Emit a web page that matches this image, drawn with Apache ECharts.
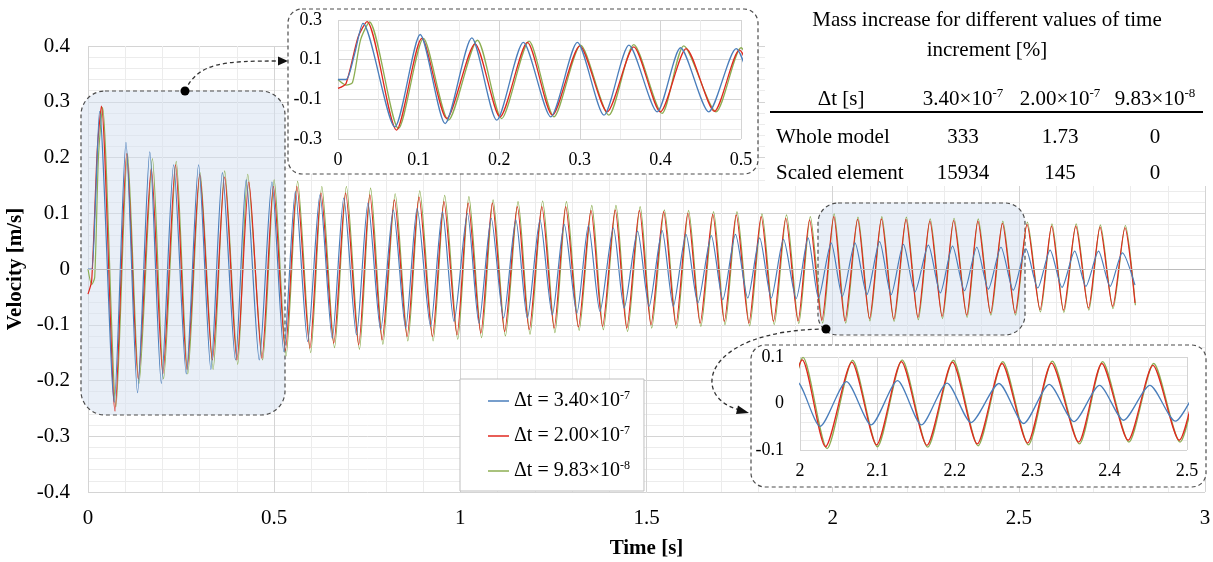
<!DOCTYPE html>
<html>
<head>
<meta charset="utf-8">
<script src="https://cdn.jsdelivr.net/npm/echarts@6/dist/echarts.min.js"></script>
<style>html,body{margin:0;padding:0;background:#fff}#c{width:1213px;height:562px}</style>
</head>
<body>
<div id="c"></div>
<script>
// ---- data (times of extrema in s, velocity in m/s) ----
const seriesNames = ['Δt = 3.40×10-7', 'Δt = 2.00×10-7', 'Δt = 9.83×10-8'];
const xTicksMain = [0, 0.5, 1, 1.5, 2, 2.5, 3];

const blueT = [0,0.010,0.020,0.031,0.0705,0.102,0.133,0.166,0.197,0.230,0.264,0.297,0.330,0.361,0.396,0.425,0.460,0.494,0.526,0.557,0.590,0.623,0.656,0.687,0.721,0.752,0.786,0.820,0.853,0.884,0.920,0.952,0.983,1.019,1.050,1.083,1.116,1.149,1.180,1.214,1.247,1.279,1.313,1.344,1.375,1.411,1.440,1.476,1.507,1.542,1.572,1.606,1.638,1.674,1.705,1.739,1.772,1.804,1.835,1.868,1.902,1.934,1.962,1.996,2.026,2.060,2.092,2.126,2.157,2.190,2.221,2.257,2.289,2.322,2.354,2.387,2.418,2.452,2.485,2.519,2.551,2.584,2.616,2.650,2.680,2.714,2.745,2.778,2.812];
const blueV = [0,0,0.12,0.283,-0.239,0.227,-0.222,0.210,-0.205,0.187,-0.188,0.187,-0.180,0.173,-0.163,0.160,-0.163,0.156,-0.148,0.139,-0.130,0.133,-0.124,0.127,-0.118,0.118,-0.109,0.106,-0.106,0.109,-0.103,0.103,-0.094,0.100,-0.097,0.091,-0.088,0.088,-0.088,0.088,-0.082,0.080,-0.079,0.078,-0.076,0.074,-0.070,0.068,-0.067,0.069,-0.067,0.062,-0.061,0.060,-0.055,0.062,-0.052,0.056,-0.052,0.053,-0.053,0.056,-0.052,0.047,-0.049,0.047,-0.046,0.049,-0.046,0.044,-0.041,0.043,-0.043,0.041,-0.039,0.039,-0.036,0.039,-0.038,0.036,-0.034,0.034,-0.033,0.032,-0.031,0.032,-0.031,0.029,-0.029];

const redT = [0,0.010,0.025,0.036,0.0726,0.104,0.135,0.170,0.201,0.235,0.266,0.300,0.334,0.367,0.400,0.432,0.467,0.498,0.530,0.561,0.596,0.626,0.660,0.692,0.727,0.757,0.790,0.823,0.857,0.889,0.925,0.956,0.991,1.021,1.055,1.086,1.119,1.153,1.185,1.219,1.252,1.283,1.317,1.351,1.382,1.416,1.447,1.481,1.512,1.546,1.579,1.611,1.644,1.678,1.709,1.741,1.775,1.808,1.841,1.874,1.907,1.938,1.971,2.003,2.033,2.067,2.099,2.131,2.164,2.197,2.229,2.261,2.294,2.325,2.360,2.390,2.424,2.456,2.490,2.522,2.557,2.588,2.620,2.653,2.687,2.718,2.752,2.785,2.812];
const redV = [-0.045,-0.02,0.215,0.292,-0.255,0.207,-0.197,0.180,-0.188,0.187,-0.180,0.170,-0.163,0.165,-0.163,0.156,-0.160,0.148,-0.146,0.148,-0.142,0.136,-0.133,0.136,-0.136,0.133,-0.127,0.124,-0.121,0.129,-0.121,0.121,-0.118,0.118,-0.115,0.118,-0.112,0.112,-0.109,0.112,-0.106,0.112,-0.104,0.105,-0.103,0.106,-0.106,0.105,-0.100,0.103,-0.100,0.100,-0.097,0.098,-0.094,0.097,-0.097,0.094,-0.094,0.091,-0.093,0.088,-0.092,0.094,-0.093,0.089,-0.089,0.090,-0.090,0.089,-0.087,0.086,-0.085,0.087,-0.083,0.086,-0.079,0.082,-0.079,0.080,-0.073,0.077,-0.074,0.077,-0.070,0.075,-0.067,0.074,-0.061];

const greenT = [0,0.010,0.018,0.028,0.039,0.075,0.106,0.137,0.173,0.203,0.237,0.268,0.301,0.336,0.367,0.402,0.429,0.469,0.500,0.532,0.563,0.598,0.628,0.662,0.694,0.729,0.759,0.792,0.825,0.859,0.891,0.927,0.958,0.993,1.023,1.057,1.088,1.121,1.155,1.187,1.221,1.254,1.285,1.319,1.353,1.384,1.418,1.449,1.483,1.514,1.548,1.581,1.613,1.646,1.680,1.711,1.743,1.777,1.810,1.843,1.876,1.909,1.940,1.973,2.004,2.035,2.068,2.100,2.132,2.165,2.198,2.230,2.262,2.295,2.326,2.361,2.391,2.425,2.457,2.491,2.523,2.558,2.589,2.621,2.654,2.688,2.719,2.753,2.786,2.813];
const greenV = [0,-0.028,-0.015,0.20,0.290,-0.247,0.207,-0.205,0.198,-0.197,0.193,-0.188,0.173,-0.180,0.176,-0.171,0.170,-0.163,0.160,-0.156,0.157,-0.150,0.148,-0.141,0.148,-0.144,0.145,-0.135,0.135,-0.129,0.140,-0.129,0.132,-0.126,0.130,-0.123,0.124,-0.120,0.121,-0.117,0.122,-0.114,0.121,-0.110,0.114,-0.109,0.114,-0.112,0.112,-0.106,0.106,-0.106,0.105,-0.103,0.103,-0.100,0.103,-0.102,0.099,-0.100,0.097,-0.098,0.094,-0.097,0.099,-0.097,0.093,-0.093,0.094,-0.094,0.093,-0.091,0.090,-0.089,0.091,-0.087,0.090,-0.083,0.086,-0.083,0.084,-0.077,0.081,-0.078,0.081,-0.074,0.079,-0.071,0.078,-0.065];

// table content
const tableTitle = ['Mass increase for different values of time', 'increment [%]'];
const tableHeads = [['3.40×10', '-7'], ['2.00×10', '-7'], ['9.83×10', '-8']];
const tableRows = [['Whole model', '333', '1.73', '0'], ['Scaled element', '15934', '145', '0']];

// ---- chart ----
const FONT = 'Liberation Serif';
const colors = ['#4a7ebb', '#e0281f', '#8cae52'];
const pairs = (T, V) => T.map((t, i) => [t, V[i]]);
const dataSets = [pairs(blueT, blueV), pairs(redT, redV), pairs(greenT, greenV)];

const chart = echarts.init(document.getElementById('c'), null, { renderer: 'canvas' });

function mkX(idx, min, max, interval, minorSplit, fontSize, margin, extra) {
  return Object.assign({
    type: 'value', gridIndex: idx, min: min, max: max, interval: interval,
    axisLine: { show: false }, axisTick: { show: false },
    axisLabel: { fontFamily: FONT, fontSize: fontSize, color: '#000', margin: margin },
    splitLine: { show: true, lineStyle: { color: '#d4d4d4', width: 1 } },
    minorTick: { show: false, splitNumber: minorSplit },
    minorSplitLine: { show: true, lineStyle: { color: '#ececec', width: 1 } },
    z: idx === 0 ? 0 : 6
  }, extra || {});
}

const xAxes = [
  mkX(0, 0, 3, 0.5, 5, 21, 16, { name: 'Time [s]', nameLocation: 'middle', nameGap: 46,
    nameTextStyle: { fontFamily: FONT, fontSize: 21, fontWeight: 'bold', color: '#000' } }),
  mkX(1, 0, 0.5, 0.1, 2, 18, 12),
  mkX(2, 2, 2.5, 0.1, 2, 18, 12)
];
const yAxes = [
  mkX(0, -0.4, 0.4, 0.1, 5, 21, 18, { name: 'Velocity [m/s]', nameLocation: 'middle', nameGap: 56, nameRotate: 90,
    nameTextStyle: { fontFamily: FONT, fontSize: 21, fontWeight: 'bold', color: '#000' } }),
  mkX(1, -0.3, 0.3, 0.2, 4, 18, 16),
  mkX(2, -0.1, 0.1, 0.1, 5, 18, 16)
];

const order = [2, 1, 0]; // draw green, red, blue
const series = [];
[0, 1, 2].forEach(g => {
  order.forEach((k, j) => {
    const s = {
      name: seriesNames[k], type: 'line', xAxisIndex: g, yAxisIndex: g,
      data: dataSets[k], symbol: 'none', smooth: 0.25, clip: true,
      lineStyle: { color: colors[k], width: g === 0 ? 1.2 : 1.3 },
      itemStyle: { color: colors[k] },
      z: g === 0 ? 2 : 7, silent: true, animation: false
    };
    if (j === 0) {
      s.markLine = { silent: true, symbol: 'none', label: { show: false }, animation: false,
        lineStyle: { color: '#bdbdbd', width: 1, type: 'solid' }, data: [{ yAxis: 0 }] };
    }
    series.push(s);
  });
});

// rich text helpers
const richSup = {
  a: { fontFamily: FONT, fontSize: 21, color: '#000' },
  s: { fontFamily: FONT, fontSize: 13, color: '#000', padding: [0, 0, 10, 0] }
};
const richLeg = {
  a: { fontFamily: FONT, fontSize: 20, color: '#000' },
  s: { fontFamily: FONT, fontSize: 12, color: '#000', padding: [0, 0, 10, 0] }
};
const el = [];
// shaded zoom regions
el.push({ type: 'rect', shape: { x: 81, y: 91, width: 204, height: 324, r: 24 }, z: 1,
  style: { fill: 'rgba(212,223,239,0.5)', stroke: '#4d4d4d', lineWidth: 1.2, lineDash: [4, 3] } });
el.push({ type: 'rect', shape: { x: 818, y: 203, width: 207, height: 132, r: 20 }, z: 1,
  style: { fill: 'rgba(212,223,239,0.5)', stroke: '#4d4d4d', lineWidth: 1.2, lineDash: [4, 3] } });
// inset boxes
el.push({ type: 'rect', shape: { x: 288, y: 9, width: 470, height: 165, r: 14 }, z: 5,
  style: { fill: '#fff', stroke: '#4d4d4d', lineWidth: 1.2, lineDash: [4, 3] } });
el.push({ type: 'rect', shape: { x: 751, y: 345, width: 455, height: 142, r: 14 }, z: 5,
  style: { fill: '#fff', stroke: '#4d4d4d', lineWidth: 1.2, lineDash: [4, 3] } });
// connectors
el.push({ type: 'bezierCurve', z: 8, shape: { x1: 185, y1: 91, cpx1: 198, cpy1: 62, cpx2: 225, cpy2: 61, x2: 279, y2: 61 },
  style: { fill: null, stroke: '#333', lineWidth: 1.3, lineDash: [4, 3] } });
el.push({ type: 'polygon', z: 8, shape: { points: [[278, 56.5], [288, 61], [278, 65.5]] }, style: { fill: '#111' } });
el.push({ type: 'circle', z: 8, shape: { cx: 185, cy: 91, r: 4.5 }, style: { fill: '#000' } });
el.push({ type: 'bezierCurve', z: 8, shape: { x1: 826, y1: 329, cpx1: 700, cpy1: 330, cpx2: 690, cpy2: 398, x2: 740, y2: 410 },
  style: { fill: null, stroke: '#333', lineWidth: 1.3, lineDash: [4, 3] } });
el.push({ type: 'polygon', z: 8, shape: { points: [[738, 405.5], [749, 413], [736, 414]] }, style: { fill: '#111' } });
el.push({ type: 'circle', z: 8, shape: { cx: 826, cy: 329, r: 4.5 }, style: { fill: '#000' } });
// table
el.push({ type: 'rect', z: 5, shape: { x: 765, y: 0, width: 448, height: 186 }, style: { fill: '#fff' } });
tableTitle.forEach((t, i) => el.push({ type: 'text', z: 6, x: 987, y: 20 + i * 30,
  style: { text: t, fontFamily: FONT, fontSize: 21, fill: '#000', align: 'center', verticalAlign: 'middle' } }));
el.push({ type: 'text', z: 6, x: 841, y: 99, style: { text: 'Δt [s]', fontFamily: FONT, fontSize: 21, fill: '#000', align: 'center', verticalAlign: 'middle' } });
const colX = [963, 1060, 1155];
tableHeads.forEach((h, i) => el.push({ type: 'text', z: 6, x: colX[i], y: 99,
  style: { text: '{a|' + h[0] + '}{s|' + h[1] + '}', rich: richSup, align: 'center', verticalAlign: 'middle' } }));
el.push({ type: 'line', z: 6, shape: { x1: 770, y1: 112, x2: 1203, y2: 112 }, style: { stroke: '#000', lineWidth: 2 } });
tableRows.forEach((r, ri) => {
  const y = 137 + ri * 36;
  el.push({ type: 'text', z: 6, x: 776, y: y, style: { text: r[0], fontFamily: FONT, fontSize: 21, fill: '#000', align: 'left', verticalAlign: 'middle' } });
  r.slice(1).forEach((v, ci) => el.push({ type: 'text', z: 6, x: colX[ci], y: y,
    style: { text: v, fontFamily: FONT, fontSize: 21, fill: '#000', align: 'center', verticalAlign: 'middle' } }));
});

const option = {
  backgroundColor: '#fff',
  animation: false,
  color: colors,
  grid: [
    { left: 88, right: 8, top: 46, bottom: 70, show: false, z: 0, outerBoundsMode: 'none', containLabel: false },
    { left: 338, width: 403, top: 20, height: 119, show: false, z: 6, outerBoundsMode: 'none', containLabel: false },
    { left: 800, width: 387, top: 357, height: 93, show: false, z: 6, outerBoundsMode: 'none', containLabel: false }
  ],
  xAxis: xAxes,
  yAxis: yAxes,
  legend: {
    orient: 'vertical', left: 460, top: 379, z: 9,
    data: seriesNames,
    icon: 'rect',
    backgroundColor: '#fff', borderColor: '#bfbfbf', borderWidth: 1,
    padding: [11, 14, 10, 28], itemGap: 14, itemWidth: 21, itemHeight: 1.5,
    textStyle: { fontFamily: FONT, fontSize: 20, color: '#000', rich: richLeg },
    formatter: n => { const m = n.match(/^(.*×10)(-\d)$/); return '{a|' + m[1] + '}{s|' + m[2] + '}'; },
    selectedMode: false
  },
  graphic: { elements: el },
  series: series
};
chart.setOption(option);
</script>
</body>
</html>
